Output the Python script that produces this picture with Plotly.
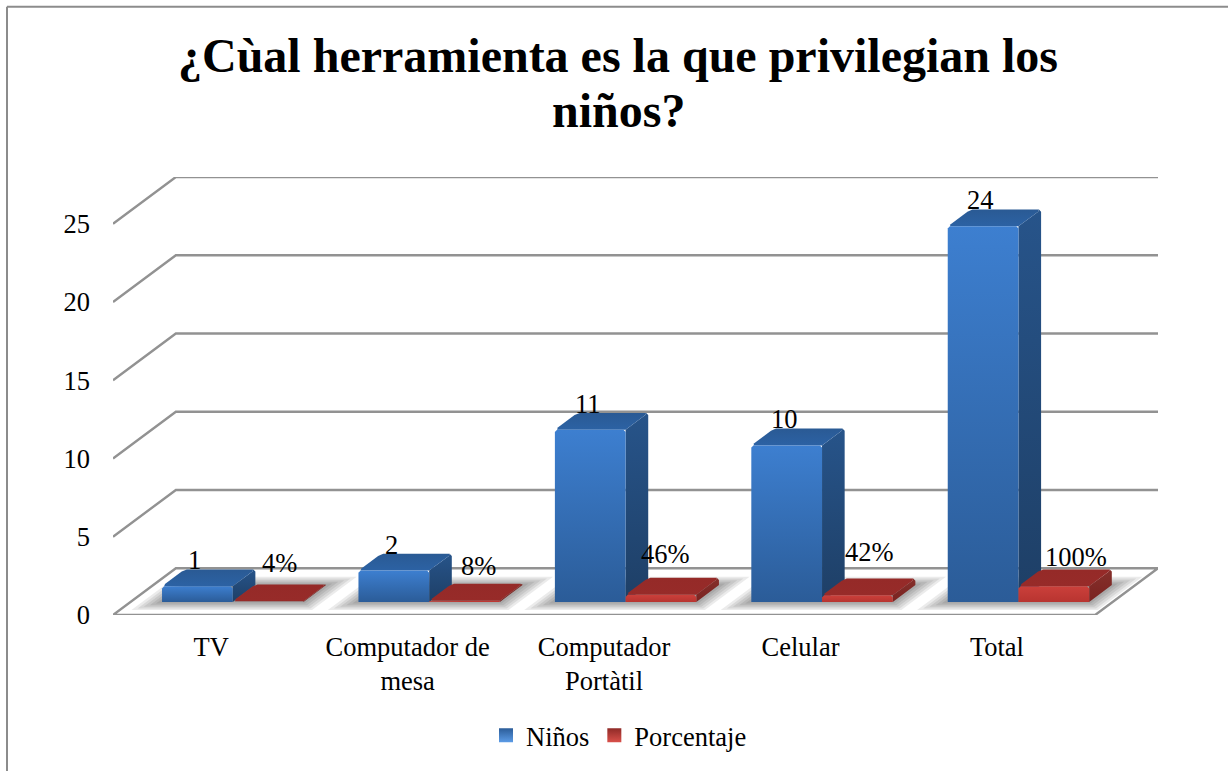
import plotly.graph_objects as go

categories = ["TV", "Computador de<br>mesa", "Computador<br>Portàtil", "Celular", "Total"]
ninos = [1, 2, 11, 10, 24]
porcentaje = [0.04, 0.08, 0.46, 0.42, 1.00]
ninos_labels = ["1", "2", "11", "10", "24"]
porcentaje_labels = ["4%", "8%", "46%", "42%", "100%"]
y_ticks = [0, 5, 10, 15, 20, 25]

# hand placed labels in the original, offsets in pixels
ninos_nudge = [(-2.5, 26)] * 5
porcentaje_nudge = [(11.5, 38), (14, 35), (5, 41), (12, 43), (22, 29)]

# oblique projection of the 3d box
DEPTH_X = 0.32
DEPTH_Y = 2.99
BAR_FRONT = 0.28
BAR_BACK = 0.64
BAR_WIDTH = 0.36
GROUP_START = 0.16

# corner rounding of the bars
ROUND_X = 0.011
ROUND_Y = 0.14

FONT = "Liberation Serif"
GRID = "#929292"
BLUE = dict(front=("#2b5c98", "#3d7fd0"), top=("#2c62a4", "#2a5a94"), side=("#1e3f66", "#27548a"))
RED = dict(front=("#b83430", "#cb403b"), top=("#972b29", "#952a28"), side=("#7a2220", "#85302b"))

# plot area in pixels of the page
LEFT, RIGHT, TOP, BOTTOM = 113, 1158, 177, 617


def project(x, y, d):
    return x + d * DEPTH_X, y + d * DEPTH_Y


def poly(points, colors):
    xs = [p[0] for p in points] + [points[0][0]]
    ys = [p[1] for p in points] + [points[0][1]]
    return go.Scatter(x=xs, y=ys, mode="lines", line=dict(width=0), fill="toself",
                      fillgradient=dict(type="vertical", colorscale=[[0, colors[0]], [1, colors[1]]]),
                      hoverinfo="skip", showlegend=False, cliponaxis=False)


def add_box(fig, x0, value, colors):
    x1 = x0 + BAR_WIDTH
    ry = min(ROUND_Y, value / 2)
    rd = ROUND_Y / DEPTH_Y
    fbl = project(x0, 0, BAR_FRONT)
    fbr = project(x1, 0, BAR_FRONT)
    ftr = project(x1, value, BAR_FRONT)
    bbr = project(x1, 0, BAR_BACK)
    fig.add_trace(poly([fbr, ftr, project(x1, value, BAR_BACK - rd), project(x1 - ROUND_X, value, BAR_BACK),
                        project(x1, value - ry, BAR_BACK), bbr], colors["side"]))
    fig.add_trace(poly([project(x0 + ROUND_X, value, BAR_FRONT), ftr, project(x1, value, BAR_BACK - rd),
                        project(x1 - ROUND_X, value, BAR_BACK), project(x0 + ROUND_X, value, BAR_BACK),
                        project(x0, value, BAR_BACK - rd), project(x0, value, BAR_FRONT + rd)], colors["top"]))
    fig.add_trace(poly([fbl, fbr, project(x1, value - ry, BAR_FRONT), project(x1 - ROUND_X, value, BAR_FRONT),
                        project(x0 + ROUND_X, value, BAR_FRONT), project(x0, value - ry, BAR_FRONT)], colors["front"]))


fig = go.Figure()

# walls and floor
grid_x, grid_y = [], []
for t in y_ticks[1:]:
    a = project(0, t, 0)
    b = project(0, t, 1)
    c = project(5, t, 1)
    grid_x += [a[0], b[0], c[0], None]
    grid_y += [a[1], b[1], c[1], None]
floor = [project(0, 0, 0), project(5, 0, 0), project(5, 0, 1), project(0, 0, 1), project(0, 0, 0)]
grid_x += [p[0] for p in floor]
grid_y += [p[1] for p in floor]
fig.add_trace(go.Scatter(x=grid_x, y=grid_y, mode="lines", line=dict(color=GRID, width=2.4),
                         hoverinfo="skip", showlegend=False, cliponaxis=False))

# soft shadow on the floor, stacked see through layers
for i in range(len(categories)):
    x0 = i + GROUP_START
    x1 = x0 + 2 * BAR_WIDTH
    for k in range(6):
        grow_x = 0.02 * k
        grow_d = 0.035 * k
        pts = [project(x0 - grow_x, 0, BAR_FRONT - grow_d), project(x1 + grow_x, 0, BAR_FRONT - grow_d),
               project(x1 + grow_x, 0, BAR_BACK + grow_d), project(x0 - grow_x, 0, BAR_BACK + grow_d)]
        xs = [p[0] for p in pts] + [pts[0][0]]
        ys = [p[1] for p in pts] + [pts[0][1]]
        fig.add_trace(go.Scatter(x=xs, y=ys, mode="lines", line=dict(width=0), fill="toself",
                                 fillcolor="rgba(0,0,0,0.08)", hoverinfo="skip", showlegend=False))

# bars
for i in range(len(categories)):
    x0 = i + GROUP_START
    add_box(fig, x0, ninos[i], BLUE)
    add_box(fig, x0 + BAR_WIDTH, porcentaje[i], RED)

# legend only entries
for name, light, dark in [("Niños", "#5b9be6", "#2b5c98"), ("Porcentaje", "#d9504a", "#8f2a27")]:
    fig.add_trace(go.Scatter(x=[None], y=[None], mode="markers", name=name,
                             marker=dict(symbol="square", size=14, color=dark,
                                         gradient=dict(type="vertical", color=light))))

# data labels
for i in range(len(categories)):
    x0 = i + GROUP_START
    for off, val, text, nudge in [(0, ninos[i], ninos_labels[i], ninos_nudge[i]),
                                  (BAR_WIDTH, porcentaje[i], porcentaje_labels[i], porcentaje_nudge[i])]:
        lx, ly = project(x0 + off + BAR_WIDTH / 2, val, BAR_FRONT)
        fig.add_annotation(x=lx, y=ly, text=text, showarrow=False, xshift=nudge[0], yshift=nudge[1],
                           xanchor="center", yanchor="middle", font=dict(family=FONT, size=26.5, color="black"))

x_top = 5 + DEPTH_X
y_top = y_ticks[-1] + DEPTH_Y
fig.update_xaxes(range=[0, x_top], tickmode="array", tickvals=[i + 0.5 for i in range(len(categories))],
                 ticktext=categories, showgrid=False, zeroline=False, showline=False, ticks="",
                 ticklabelstandoff=13, tickangle=0)
fig.update_yaxes(range=[0, y_top], tickmode="array", tickvals=y_ticks, showgrid=False, zeroline=False,
                 showline=False, ticks="", ticklabelstandoff=22)

# second title line sits closer than plotly's line height
fig.add_annotation(text="<b>niños?</b>", showarrow=False, xref="paper", yref="paper",
                   x=(618 - LEFT) / (RIGHT - LEFT), y=(BOTTOM - 110) / (BOTTOM - TOP),
                   xanchor="center", yanchor="middle", font=dict(family=FONT, size=48, color="black"))

# chart frame, runs off the right and bottom of the page
fig.add_shape(type="line", xref="paper", yref="paper", x0=(7 - LEFT) / (RIGHT - LEFT), x1=(1240 - LEFT) / (RIGHT - LEFT),
              y0=(BOTTOM - 6) / (BOTTOM - TOP), y1=(BOTTOM - 6) / (BOTTOM - TOP), line=dict(color="#8c8c8c", width=2))
fig.add_shape(type="line", xref="paper", yref="paper", x0=(7 - LEFT) / (RIGHT - LEFT), x1=(7 - LEFT) / (RIGHT - LEFT),
              y0=(BOTTOM - 780) / (BOTTOM - TOP), y1=(BOTTOM - 6) / (BOTTOM - TOP), line=dict(color="#8c8c8c", width=2))

fig.update_layout(
    width=1228, height=771, autosize=False,
    margin=dict(l=LEFT, r=1228 - RIGHT, t=TOP, b=771 - BOTTOM, pad=0),
    paper_bgcolor="white", plot_bgcolor="white",
    font=dict(family=FONT, size=26.5, color="black"),
    title=dict(text="<b>¿Cùal herramienta es la que privilegian los</b>", xref="container", yref="container",
               x=618 / 1228, y=1 - 55 / 771, xanchor="center", yanchor="middle",
               font=dict(family=FONT, size=48, color="black")),
    legend=dict(orientation="h", x=(619 - LEFT) / (RIGHT - LEFT), y=(BOTTOM - 738) / (BOTTOM - TOP),
                xanchor="center", yanchor="middle", font=dict(family=FONT, size=26.5)),
)

fig.write_html("out.html", config=dict(displayModeBar=False),
               post_script="document.body.style.margin='0';document.body.style.overflow='hidden';")
